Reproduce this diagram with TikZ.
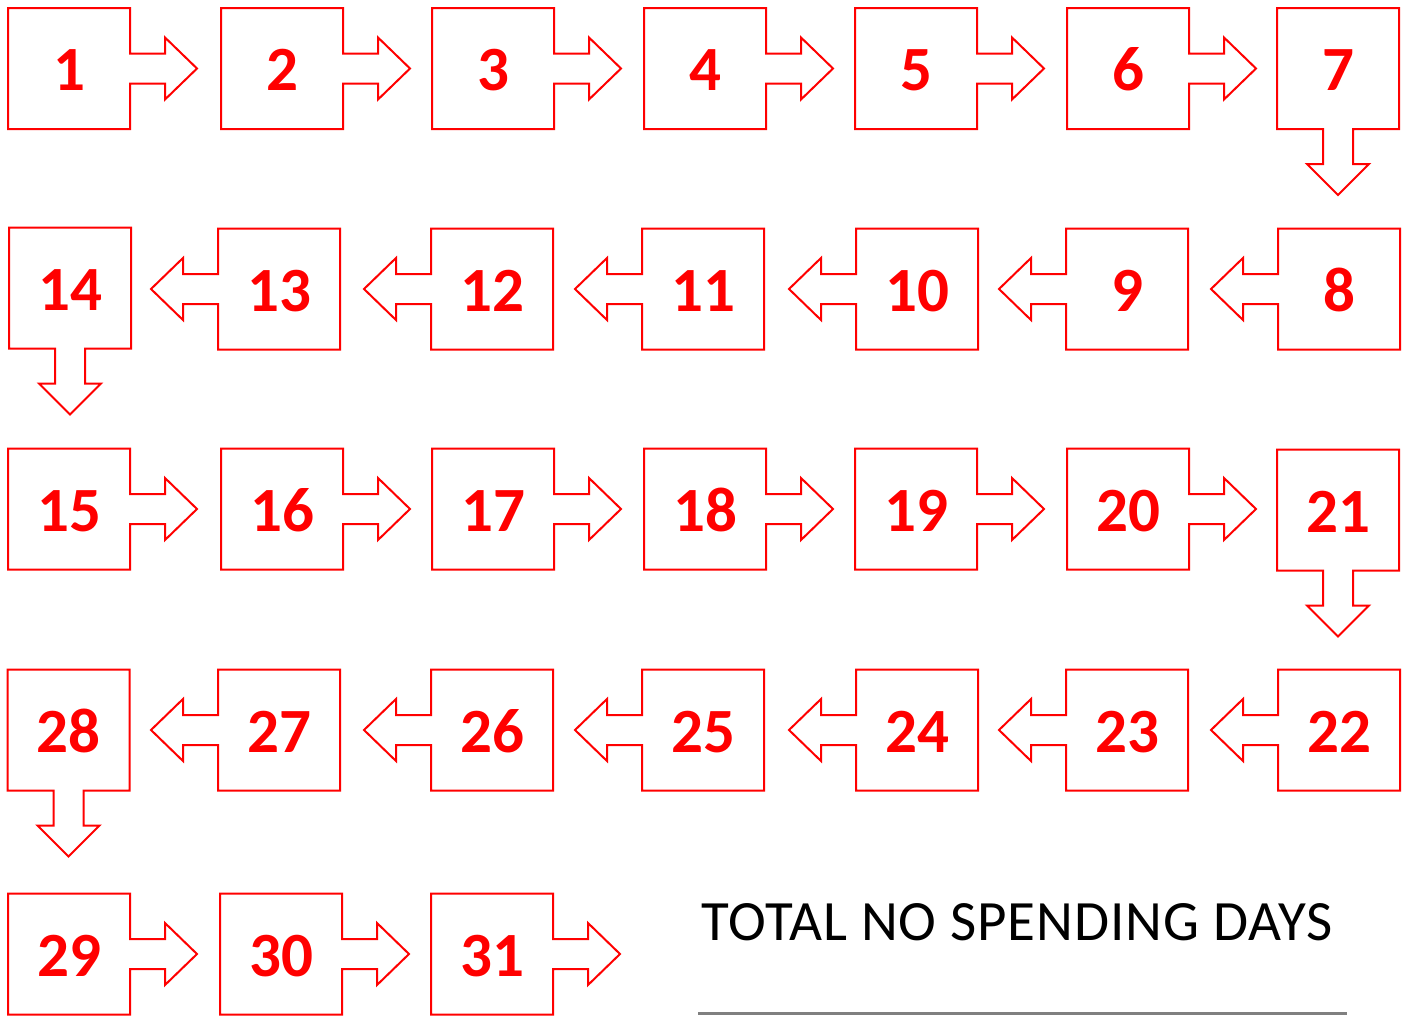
\documentclass[tikz,border=0pt]{standalone}
\usepackage{fontspec}
\setmainfont{Carlito}
\newfontfamily\totalfont[LetterSpace=1.6]{Carlito}
\definecolor{boxred}{RGB}{255,0,0}
\definecolor{linegray}{RGB}{128,128,128}
\tikzset{
  daybox/.style={rectangle, minimum width=122pt, minimum height=121pt, inner sep=0pt, outer sep=0pt,
    text height=44pt, text depth=0pt,
    text=boxred, font=\bfseries\fontsize{63}{63}\selectfont},
  outline/.style={draw=boxred, line width=2pt, line join=miter}
}
\newcommand\rbox[1]{\draw[outline] (#1.north west) -- (#1.north east) -- ++(0,45.5) -- ++(35,0) -- ++(0,-16) -- ++(32,31) -- ++(-32,31) -- ++(0,-16) -- ++(-35,0) -- (#1.south east) -- (#1.south west) -- cycle;}
\newcommand\lbox[1]{\draw[outline] (#1.north east) -- (#1.north west) -- ++(0,45.5) -- ++(-35,0) -- ++(0,-16) -- ++(-32,31) -- ++(32,31) -- ++(0,-16) -- ++(35,0) -- (#1.south west) -- (#1.south east) -- cycle;}
\newcommand\dbox[1]{\draw[outline] (#1.north west) -- (#1.north east) -- (#1.south east) -- ++(-46,0) -- ++(0,35) -- ++(16,0) -- ++(-31,31) -- ++(-31,-31) -- ++(16,0) -- ++(0,-35) -- (#1.south west) -- cycle;}
\begin{document}
\begin{tikzpicture}[x=1pt,y=-1pt]
\useasboundingbox (0,0) rectangle (1406,1015);
% row 1
\node[daybox] (d1) at (69,68.5) {1};
\node[daybox] (d2) at (282,68.5) {2};
\node[daybox] (d3) at (493,68.5) {3};
\node[daybox] (d4) at (705,68.5) {4};
\node[daybox] (d5) at (916,68.5) {5};
\node[daybox] (d6) at (1128,68.5) {6};
\node[daybox] (d7) at (1338,68.5) {7};
% row 2
\node[daybox] (d8) at (1339,289) {8};
\node[daybox] (d9) at (1127,289) {9};
\node[daybox] (d10) at (917,289) {10};
\node[daybox] (d11) at (703,289) {11};
\node[daybox] (d12) at (492,289) {12};
\node[daybox] (d13) at (279,289) {13};
\node[daybox] (d14) at (70,288) {14};
% row 3
\node[daybox] (d15) at (69,509) {15};
\node[daybox] (d16) at (282,509) {16};
\node[daybox] (d17) at (493,509) {17};
\node[daybox] (d18) at (705,509) {18};
\node[daybox] (d19) at (916,509) {19};
\node[daybox] (d20) at (1128,509) {20};
\node[daybox] (d21) at (1338,510) {21};
% row 4
\node[daybox] (d22) at (1339,730) {22};
\node[daybox] (d23) at (1127,730) {23};
\node[daybox] (d24) at (917,730) {24};
\node[daybox] (d25) at (703,730) {25};
\node[daybox] (d26) at (492,730) {26};
\node[daybox] (d27) at (279,730) {27};
\node[daybox] (d28) at (68.5,730) {28};
% row 5
\node[daybox] (d29) at (69,954) {29};
\node[daybox] (d30) at (281,954) {30};
\node[daybox] (d31) at (492,954) {31};
% outlines
\rbox{d1}\rbox{d2}\rbox{d3}\rbox{d4}\rbox{d5}\rbox{d6}\dbox{d7}
\lbox{d8}\lbox{d9}\lbox{d10}\lbox{d11}\lbox{d12}\lbox{d13}\dbox{d14}
\rbox{d15}\rbox{d16}\rbox{d17}\rbox{d18}\rbox{d19}\rbox{d20}\dbox{d21}
\lbox{d22}\lbox{d23}\lbox{d24}\lbox{d25}\lbox{d26}\lbox{d27}\dbox{d28}
\rbox{d29}\rbox{d30}\rbox{d31}
% total
\node[anchor=base west, inner sep=0pt, font=\totalfont\fontsize{57}{57}\selectfont] (total) at (701,940) {TOTAL NO SPENDING DAYS};
\coordinate (lineL) at (698,1013);
\coordinate (lineR) at (1347,1013);
\draw[linegray, line width=3pt] (lineL) -- (lineR);
\end{tikzpicture}
\end{document}
